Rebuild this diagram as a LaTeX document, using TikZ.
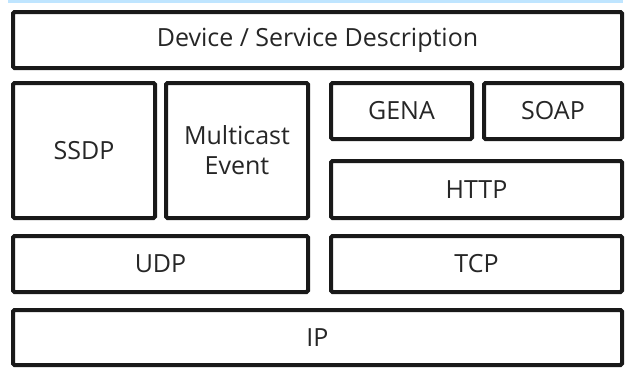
\documentclass[tikz,border=0pt]{standalone}
\usepackage{fontspec}
\setmainfont{Open Sans}
\begin{document}
\begin{tikzpicture}[x=1pt,y=-1pt,
  layer/.style={draw=black!90, line width=4pt, rounded corners=1.5pt, inner sep=0pt,
    align=center, font=\fontsize{25}{30}\selectfont, text=black!85}]
\useasboundingbox[fill=white] (0,0) rectangle (626,372);
\fill[blue!40!cyan!25!white] (8,0) rectangle (623,3);
\node[layer, minimum width=609pt, minimum height=56pt] (dev) at (317.5,40) {Device / Service Description};
\node[layer, minimum width=142pt, minimum height=135pt] (ssdp) at (84,150.5) {SSDP};
\node[layer, minimum width=142pt, minimum height=135pt] (mce) at (237,150.5) {Multicast\\Event};
\node[layer, minimum width=141pt, minimum height=56pt] (gena) at (401.5,111) {GENA};
\node[layer, minimum width=138pt, minimum height=56pt] (soap) at (553,111) {SOAP};
\node[layer, minimum width=291pt, minimum height=57pt] (http) at (476.5,189.5) {HTTP};
\node[layer, minimum width=295pt, minimum height=56pt] (udp) at (160.5,264) {UDP};
\node[layer, minimum width=291pt, minimum height=56pt] (tcp) at (476.5,264) {TCP};
\node[layer, minimum width=609pt, minimum height=55pt] (ip) at (317.5,337.5) {IP};
\end{tikzpicture}
\end{document}
